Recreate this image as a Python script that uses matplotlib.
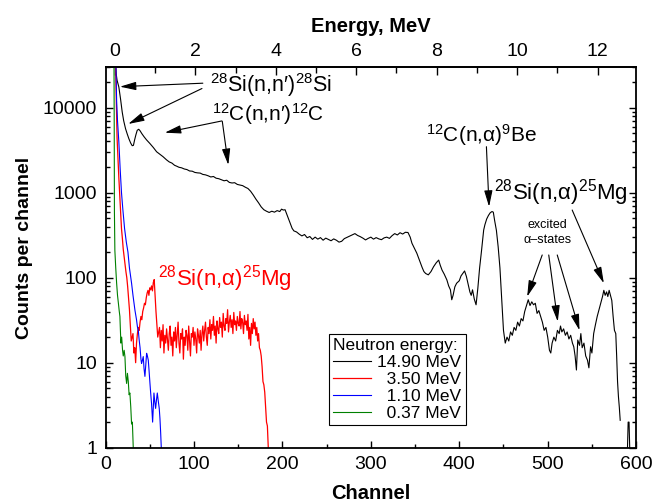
import numpy as np
import matplotlib
matplotlib.use('Agg')
import matplotlib.pyplot as plt
from matplotlib.ticker import (MultipleLocator, FixedLocator, LogLocator,
                               NullFormatter, FuncFormatter)

plt.rcParams['font.family'] = ['Liberation Sans', 'DejaVu Sans']
plt.rcParams['mathtext.fontset'] = 'custom'
plt.rcParams['mathtext.rm'] = 'Liberation Sans'
plt.rcParams['mathtext.it'] = 'Liberation Sans:italic'
plt.rcParams['mathtext.bf'] = 'Liberation Sans:bold'

# spectra: (channel, counts per channel)
black_pts = [
    (10.5, 45000), (11.3, 30000), (12, 25000), (13, 21000), (15, 17500), (17, 12500),
    (18.8, 8900), (20.5, 7000), (22.6, 5650), (24.5, 4900), (26.4, 4300), (28.3, 3850),
    (30.1, 3570), (31.5, 3600), (32.8, 4160), (34.3, 4800), (35.8, 5420), (37.5, 5570),
    (39, 5350), (41, 4950), (43.5, 4550), (46.4, 4170), (50, 3800), (54, 3400),
    (57.7, 3030), (61, 2850), (65, 2650), (69, 2430), (72, 2300), (75, 2230), (78, 2100),
    (80.4, 2050), (83, 1990), (86, 1960), (89, 1900), (92, 1870), (95, 1800), (98, 1790),
    (101, 1730), (104, 1710), (107, 1700), (110, 1640), (113, 1620), (116, 1580),
    (119, 1530), (122, 1550), (125, 1480), (128, 1460), (131, 1420), (134, 1380),
    (137, 1400), (140, 1320), (143, 1300), (146, 1310), (149, 1250), (152, 1230),
    (155, 1210), (158, 1160), (161, 1120), (164, 1040), (167, 940), (170, 840),
    (173, 760), (176, 680), (179, 630), (182, 605), (185, 585), (188, 605), (191, 590),
    (194, 615), (197, 600), (199, 640), (201, 625), (203, 630), (206, 520), (208.7, 437),
    (211, 380), (213, 355), (216, 345), (219, 325), (222, 310), (225, 322), (228, 295),
    (231, 305), (234, 282), (237, 300), (240, 284), (243, 296), (246, 276), (249, 292),
    (252, 282), (255, 272), (258, 286), (261, 276), (264, 262), (267, 268), (270, 288),
    (273, 298), (276, 308), (279, 318), (282, 330), (285, 314), (288, 304), (291, 292),
    (294, 278), (297, 290), (300, 300), (303, 284), (306, 296), (309, 286), (312, 280),
    (315, 294), (318, 300), (321, 290), (324, 312), (327, 330), (330, 318), (333, 338),
    (336, 326), (339, 342), (342, 340), (344.5, 300), (346.5, 254), (349, 225),
    (352, 194), (355, 160), (358, 132), (360, 118), (362, 112), (365, 108), (368, 118),
    (371, 135), (374, 150), (376.7, 161), (378.5, 140), (380.5, 123), (383, 110),
    (386, 94), (388, 80), (390, 72), (391.5, 55), (393, 62), (395, 78), (397, 86),
    (400, 92), (402, 105), (404, 112), (406, 120), (408, 104), (410, 84), (412, 68),
    (413.5, 62), (415, 72), (417, 56), (419, 48), (421, 75), (423, 130), (425, 200),
    (427.6, 363), (429, 420), (431, 490), (433, 540), (435, 580), (437, 600),
    (438.5, 590), (440, 470), (442, 360), (444, 230), (446, 130), (448, 55), (450, 24),
    (452, 17), (454, 20), (456, 18), (458, 23), (460, 21), (462, 26), (464, 24),
    (466, 30), (468, 27), (470, 33), (472, 31), (474, 40), (476, 47), (478, 55),
    (480, 47), (482, 52), (484, 48), (486, 50), (488, 38), (490, 41), (492, 35),
    (494, 30), (496, 24), (498, 26), (500, 20), (502, 14), (503.5, 13), (505, 17),
    (507, 20), (509, 18), (511, 24), (513, 22), (514.5, 27), (516, 23), (518, 25),
    (520, 21), (522, 23), (524, 19), (526, 21), (528, 17), (529.5, 15.4), (531, 12),
    (532.5, 8.2), (534, 18.5), (536, 16), (537.5, 22), (539, 15), (541, 17), (543, 12),
    (545, 10.7), (546.6, 8.7), (548.5, 15.4), (550, 13), (552, 22), (554, 28), (556, 35),
    (558, 42), (560, 50), (562, 60), (563.5, 71), (565, 62), (566.6, 68), (568, 60),
    (569.5, 71), (571, 62), (572.5, 54), (574, 35), (575.5, 24), (577, 22), (578, 12),
    (579, 6), (580, 4), (581, 3), (582, 2.1), (583, 0), (589, 0), (590, 0.8), (591, 2),
    (592, 2), (593, 0.8), (594, 0),
]

# 3.50 MeV, one value per channel starting at channel 11
red_first_channel = 11
red_counts = [
    45000, 14000, 4400, 2500, 1500, 950, 600, 377, 290, 215, 175, 145, 118, 100, 78, 58,
    42, 28, 18, 20, 22, 13, 15, 10, 17, 22, 26, 24, 30, 35, 32, 40, 44, 50, 48, 58, 66,
    71, 62, 76, 72, 80, 70, 88, 95, 62, 40, 28, 20, 23, 26,
    15, 24, 18, 28, 13, 21, 17, 25, 19, 14, 22, 27, 16, 20, 12, 23, 18, 26, 15, 21,
    30, 17, 13, 22, 19, 25, 11, 20, 16, 24, 21, 14, 27, 18, 12, 22, 20, 26, 16, 23,
    19, 13, 25, 21, 17, 24,
    14, 22, 27, 18, 24, 30, 20, 16, 26, 22, 32, 19, 28, 24, 35, 21, 27, 17, 31, 25,
    22, 34, 26, 30, 20, 38, 27, 24, 33, 29, 42, 23, 30, 36, 26, 32, 22, 39, 28, 31,
    24, 35, 29, 27, 40, 25, 33, 30, 22, 36, 28, 31, 24, 37, 19, 26, 16, 29, 22, 33,
    25, 30, 21, 26, 18,
    22, 15, 14, 12, 9, 6, 5.5, 4.5, 3, 2, 1.8, 1, 0,
]

blue_ch = [11.5, 12.5, 13.5, 15, 16.5, 18, 19.5, 21.5, 23.5, 25.3, 27, 29.4, 31, 33.2, 35,
           36, 37, 38, 39, 40, 40.7, 41.5, 42.6, 43.5, 44.5, 45.5, 46.4, 47.3, 48.3, 49.2,
           50.2, 51, 52, 53.2, 54, 54.7, 55.6, 56.6, 57.5, 58.5, 59.5, 60.7, 61.5, 62.3, 63]
blue_counts = [40000, 12000, 7000, 3960, 1900, 1000, 640, 377, 260, 200, 130, 86, 62, 41.5,
               32, 26.5, 24, 18.5, 15, 11, 9.8, 10.5, 11.8, 8.5, 6.9, 9.5, 12.9, 12, 10.7,
               8, 5.7, 4.4, 3.3, 2, 3, 4.4, 3.5, 2.9, 3.6, 4.4, 3.6, 2.9, 2.2, 1.5, 1]

green_ch = [9.5, 9.8, 10.0, 10.5, 11.5, 12.5, 13.5, 14.5, 15.5, 16.2, 17.3, 18.2, 19.2, 20,
            21, 21.9, 22.8, 23.8, 24.7, 25.7, 26.6, 27.5, 28.5, 29.4, 30.3, 31.3]
green_counts = [40000, 5000, 600, 210, 130, 86, 62, 50, 40, 35, 17, 20, 14, 12, 14, 11.8, 7,
                5.7, 7.5, 6, 4.2, 4.4, 3, 1.9, 2, 1]

legend_labels = ['14.90 MeV', '\u20073.50 MeV', '\u20071.10 MeV', '\u20070.37 MeV']
energy_ticks = [0, 2, 4, 6, 8, 10, 12]
energy_minor = [1, 3, 5, 7, 9, 11]

black_pts = np.array(black_pts)
red_ch = np.arange(red_first_channel, red_first_channel + len(red_counts))

fig = plt.figure(figsize=(6.64, 5.04), dpi=100)
ax = fig.add_axes([0.159, 0.1117, 0.799, 0.756])

l1, = ax.plot(black_pts[:, 0], black_pts[:, 1], color='k', lw=0.8)
l2, = ax.plot(red_ch, red_counts, color='#ff0000', lw=0.9)
l3, = ax.plot(blue_ch, blue_counts, color='#0000ff', lw=0.8)
l4, = ax.plot(green_ch, green_counts, color='#008000', lw=0.8)

ax.set_yscale('log', nonpositive='mask')
ax.set_xlim(0, 600)
ax.set_ylim(1, 30350)

ax.xaxis.set_major_locator(MultipleLocator(100))
ax.xaxis.set_minor_locator(MultipleLocator(50))
ax.yaxis.set_major_locator(LogLocator(base=10))
ax.yaxis.set_minor_locator(LogLocator(base=10, subs=np.arange(2, 10)))
ax.yaxis.set_major_formatter(FuncFormatter(lambda v, _: f'{v:g}'))
ax.yaxis.set_minor_formatter(NullFormatter())
ax.tick_params(which='both', direction='in', right=True, top=False, labelsize=14, width=1)
ax.tick_params(which='major', length=5)
ax.tick_params(which='minor', length=3)
ax.tick_params(axis='x', pad=6)
ax.tick_params(axis='y', pad=6)
for s in ax.spines.values():
    s.set_linewidth(1.3)

secax = ax.secondary_xaxis('top', functions=(lambda c: (c - 10.5) / 45.5,
                                             lambda e: e * 45.5 + 10.5))
secax.xaxis.set_major_locator(FixedLocator(energy_ticks))
secax.xaxis.set_minor_locator(FixedLocator(energy_minor))
secax.tick_params(which='both', direction='in', labelsize=14, width=1, pad=5)
secax.tick_params(which='major', length=6)
secax.tick_params(which='minor', length=4)
secax.spines['top'].set_linewidth(1.3)
secax.set_xlabel('Energy, MeV', fontsize=14.5, fontweight='bold', labelpad=8)

ax.set_xlabel('Channel', fontsize=14.5, fontweight='bold', labelpad=8)
ax.set_ylabel('Counts per channel', fontsize=14, fontweight='bold')
ax.yaxis.set_label_coords(-0.137, 0.525)

# annotations
arr = dict(arrowstyle='-|>,head_length=0.7,head_width=0.18', color='k', lw=0.8,
           mutation_scale=14, shrinkA=0, shrinkB=0)
ax.text(118, 18700, '$^{28}$Si(n,n\u2032)$^{28}$Si', fontsize=15.5, ha='left', va='center')
ax.annotate('', xy=(16.2, 17660), xytext=(110, 19400), arrowprops=arr)
ax.annotate('', xy=(25.6, 6430), xytext=(109, 16800), arrowprops=arr)

ax.text(120, 8300, '$^{12}$C(n,n\u2032)$^{12}$C', fontsize=15, ha='left', va='center')
ax.annotate('', xy=(67, 5080), xytext=(131.5, 6980), arrowprops=arr)
ax.annotate('', xy=(138.8, 2120), xytext=(132, 6900), arrowprops=arr)

ax.text(424.8, 4770, '$^{12}$C(n,\u03b1)$^{9}$Be', fontsize=15, ha='center', va='center')
ax.annotate('', xy=(433.7, 684), xytext=(430.7, 3475), arrowprops=arr)

ax.text(515.4, 992, '$^{28}$Si(n,\u03b1)$^{25}$Mg', fontsize=16, ha='center', va='center')
ax.annotate('', xy=(563.5, 86), xytext=(527.7, 625), arrowprops=arr)

ax.text(500, 340, 'excited\n\u03b1\u2013states', fontsize=9, ha='center', va='center',
        linespacing=1.3)
ax.annotate('', xy=(476.8, 59.8), xytext=(493.8, 185), arrowprops=arr)
ax.annotate('', xy=(511.4, 30.4), xytext=(501.2, 185), arrowprops=arr)
ax.annotate('', xy=(536, 24), xytext=(510.8, 185), arrowprops=arr)

ax.text(59.6, 97.3, '$^{28}$Si(n,\u03b1)$^{25}$Mg', fontsize=16, color='#ff0000',
        ha='left', va='center')

leg = ax.legend([l1, l2, l3, l4], legend_labels, title='Neutron energy:',
                loc='lower right', bbox_to_anchor=(0.679, 0.059), borderaxespad=0,
                fontsize=12.5, title_fontsize=12.5, alignment='left', fancybox=False,
                edgecolor='k', framealpha=1, borderpad=0.25, labelspacing=0.1,
                handlelength=2.2, handletextpad=0.35)
leg.get_frame().set_linewidth(0.8)

fig.savefig('out.png', dpi=100)
